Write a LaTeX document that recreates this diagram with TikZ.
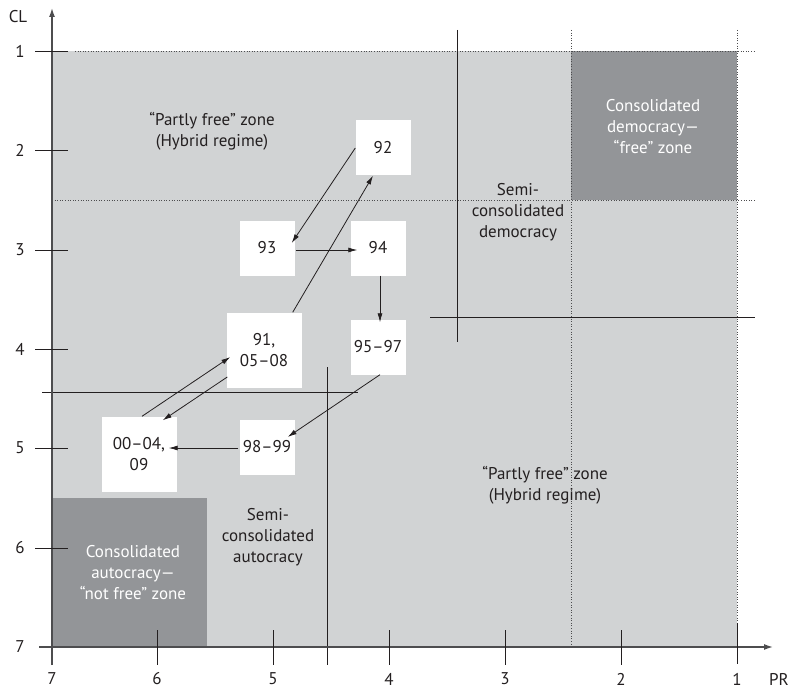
\documentclass[tikz,border=0pt]{standalone}
\usepackage{fontspec}
\setmainfont{PT Sans}
\usetikzlibrary{arrows.meta}
\definecolor{lgray}{HTML}{D1D3D4}
\definecolor{dgray}{HTML}{939598}
\definecolor{axisgray}{HTML}{4D4D4F}
\definecolor{ink}{HTML}{231F20}
\begin{document}
\begin{tikzpicture}[x=1pt,y=-1pt,
  font=\fontsize{17}{21}\selectfont, text=ink,
  box/.style={fill=white, minimum width=55pt, minimum height=55pt, inner sep=0pt, align=center},
  bigbox/.style={box, minimum width=75pt, minimum height=75pt},
  arr/.style={draw=ink, -{Latex[length=9pt,width=5pt]}, line width=0.8pt},
  dotl/.style={dotted, line width=0.6pt, draw=axisgray},
  sol/.style={draw=ink, line width=0.9pt},
  axis/.style={draw=axisgray, line width=1.4pt, -{Latex[length=9pt,width=6pt]}},
  tick/.style={draw=ink, line width=0.9pt},
  lbl/.style={inner sep=0pt},
  zone/.style={align=center, inner sep=0pt},
  wzone/.style={zone, text=white}]
\useasboundingbox (0,0) rectangle (790,690);
% zones
\fill[lgray] (52,51) rectangle (737,647);
\fill[dgray] (571,51) rectangle (737,200);
\fill[dgray] (52,498) rectangle (207,647);
% dotted lines
\draw[dotl] (75,51) -- (755,51);
\draw[dotl] (52,200) -- (755,200);
\draw[dotl] (571,30) -- (571,647);
\draw[dotl] (737,30) -- (737,647);
% solid divider lines
\draw[sol] (457,30) -- (457,342);
\draw[sol] (430,317) -- (755,317);
\draw[sol] (42,392) -- (358,392);
\draw[sol] (327,367) -- (327,665);
% axes
\draw[axis] (52,665) -- (52,8);
\draw[axis] (39,647) -- (773,647);
\foreach \y/\l in {51/1,150/2,250/3,349/4,448/5,548/6} {
  \draw[tick] (35,\y) -- (68,\y);
  \node[lbl] at (20,\y) {\l};
}
\node[lbl] at (20,647) {7};
\foreach \x/\l in {157/6,273/5,389/4,505/3,621/2} {
  \draw[tick] (\x,630) -- (\x,665);
  \node[lbl] at (\x,679) {\l};
}
\draw[tick] (737,623) -- (737,664);
\node[lbl] at (737,679) {1};
\node[lbl] at (52,679) {7};
\node[lbl] at (779,679) {PR};
\node[lbl] at (18,17) {CL};
% zone texts
\node[zone] (tz1) at (212,131) {“Partly free” zone\\(Hybrid regime)};
\node[zone] (tz2) at (518,212) {Semi-\\consolidated\\democracy};
\node[wzone] (tz3) at (653,127) {Consolidated\\democracy—\\“free” zone};
\node[zone] (tz4) at (545,485) {“Partly free” zone\\(Hybrid regime)};
\node[wzone] (tz5) at (133,573) {Consolidated\\autocracy—\\“not free” zone};
\node[zone] (tz6) at (268,537) {Semi-\\consolidated\\autocracy};
% year boxes
\node[box] (n92) at (383,148) {92};
\node[box] (n93) at (267,248) {93};
\node[box] (n94) at (378,248) {94};
\node[box] (n95) at (378,347) {95–97};
\node[bigbox] (n91) at (264,350) {91,\\05–08};
\node[box] (n98) at (267,447) {98–99};
\node[bigbox] (n00) at (139,454) {00–04,\\09};
% arrows
\draw[arr] (n92.west) -- ([shift={(-3,-5)}]n93.east);
\draw[arr] ([shift={(-9,0)}]n91.north east) -- ([shift={(-10,0)}]n92.south);
\draw[arr] ([shift={(1,2)}]n93.east) -- ([shift={(7,2)}]n94.west);
\draw[arr] ([shift={(2,0)}]n94.south) -- ([shift={(2,3)}]n95.north);
\draw[arr] ([shift={(2,0)}]n95.south) -- ([shift={(-7,-10)}]n98.east);
\draw[arr] ([shift={(-1,1)}]n98.west) -- ([shift={(-8,-6)}]n00.east);
\draw[arr] ([shift={(3,0)}]n00.north) -- ([shift={(4,7)}]n91.west);
\draw[arr] ([shift={(1,27)}]n91.west) -- ([shift={(-14,4)}]n00.north east);
\end{tikzpicture}
\end{document}
